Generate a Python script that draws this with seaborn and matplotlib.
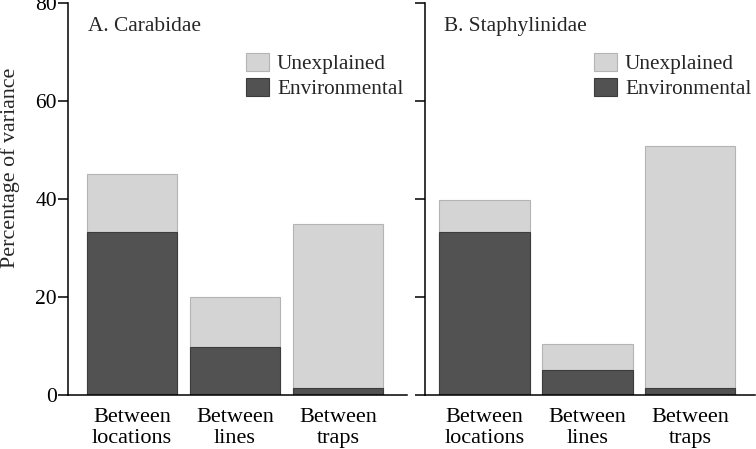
import pandas as pd
import matplotlib.pyplot as plt
import seaborn as sns

# Доли дисперсии по уровням (читаются с рисунка)
categories = ['Between\nlocations', 'Between\nlines', 'Between\ntraps']
carabidae_total = [45.0, 19.9, 34.8]
carabidae_env = [33.3, 9.7, 1.5]
staphylinidae_total = [39.7, 10.5, 50.8]
staphylinidae_env = [33.3, 5.2, 1.4]
panel_titles = ['A. Carabidae', 'B. Staphylinidae']
y_ticks = [0, 20, 40, 60, 80]

LIGHT = '#d4d4d4'
DARK = '#525252'

sns.set_theme(style='ticks')
plt.rcParams['font.family'] = ['Liberation Serif', 'DejaVu Serif']

fig = plt.figure(figsize=(7.56, 4.49), dpi=100)
ax_a = fig.add_axes([68 / 756, 54 / 449, 339 / 756, 392 / 449])
ax_b = fig.add_axes([425 / 756, 54 / 449, 330 / 756, 392 / 449])

panels = [
    (ax_a, carabidae_total, carabidae_env, (-0.62, 2.67), 0.525),
    (ax_b, staphylinidae_total, staphylinidae_env, (-0.58, 2.63), 0.512),
]

for i, (ax, total, env, xlim, leg_x) in enumerate(panels):
    df = pd.DataFrame({'cat': categories, 'total': total, 'env': env})
    sns.barplot(data=df, x='cat', y='total', color=LIGHT, saturation=1,
                width=0.88, edgecolor='#b4b4b4', linewidth=0.8,
                label='Unexplained', ax=ax)
    sns.barplot(data=df, x='cat', y='env', color=DARK, saturation=1,
                width=0.88, edgecolor='#3c3c3c', linewidth=0.8,
                label='Environmental', ax=ax)

    ax.set_xlim(*xlim)
    ax.set_ylim(0, 80)
    ax.set_yticks(y_ticks)
    ax.set_xlabel('')
    ax.set_ylabel('')
    sns.despine(ax=ax)
    for side in ['left', 'bottom']:
        ax.spines[side].set_color('black')
        ax.spines[side].set_linewidth(1.1)
    ax.tick_params(axis='x', length=0, labelsize=16, pad=9, colors='black')
    ax.tick_params(axis='y', length=7, width=1.1, labelsize=15.5,
                   colors='black', direction='out', pad=1)

    ax.text(0.058, 0.94, panel_titles[i], transform=ax.transAxes,
            fontsize=15.4, va='center', ha='left')

    ax.legend(loc='upper left', bbox_to_anchor=(leg_x, 0.872),
              frameon=False, fontsize=15.3, handlelength=1.08, handleheight=0.9,
              handletextpad=0.38, labelspacing=0.18, borderpad=0,
              borderaxespad=0)

ax_a.set_ylabel('Percentage of variance', fontsize=15.8)
ax_a.yaxis.set_label_coords(-0.142, 0.58)
ax_b.set_yticklabels([])

plt.savefig('out.png', dpi=100)
